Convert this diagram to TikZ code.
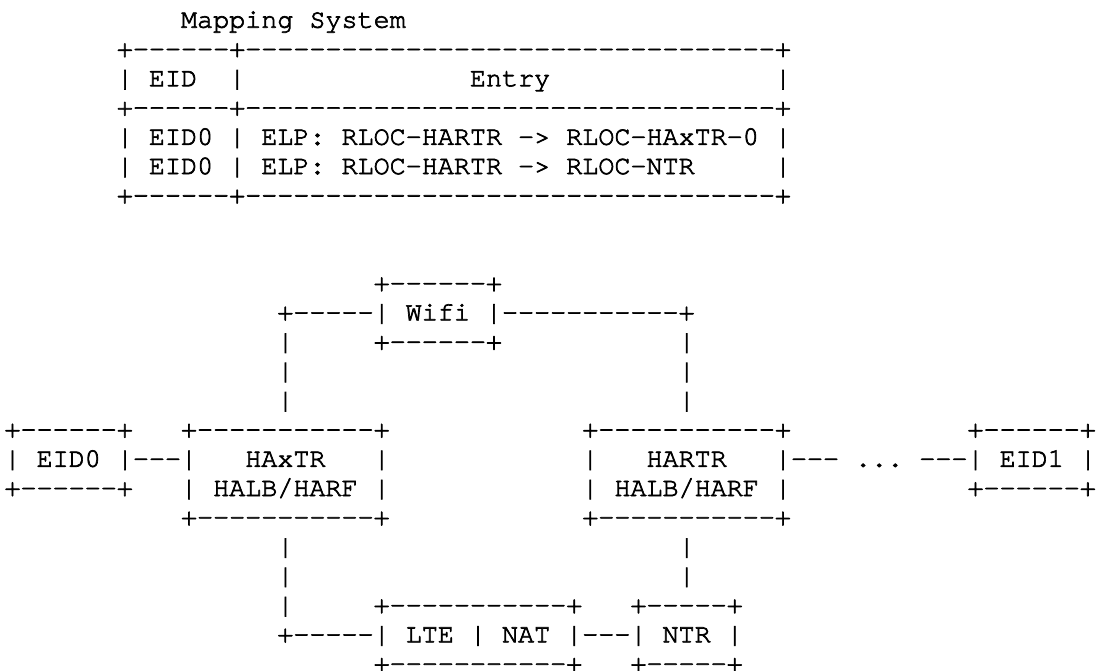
\documentclass[tikz,border=0pt]{standalone}
\usepackage{fontspec}
\setmonofont{TeX Gyre Cursor}[Ligatures=NoCommon, FakeBold=2.5]

\begin{document}
\begin{tikzpicture}[
    x=16.05pt, y=-29.27pt,
    every node/.style={anchor=base west, inner sep=0pt, outer sep=0pt,
        font=\ttfamily\fontsize{26.75}{29.27}\selectfont\frenchspacing},
]
\useasboundingbox (-4.5pt,27.7pt) rectangle (1093.5pt,-642.3pt);
% mapping system table (columns 7..48, rows 0..6)
\node (maptitle) at (11,0) {Mapping System};
\foreach \r in {1,3,6}
    \node (maprule\r) at (7,\r) {+------+{-----------}{-----------}{-----------}+};
\node (hdrleft) at (7,2) {|};
\node (hdreid) at (9,2) {EID};
\node (hdrmid) at (14,2) {|};
\node (hdrentry) at (29,2) {Entry};
\node (hdrright) at (48,2) {|};
\node (entryone) at (7,4) {| EID0 | ELP: RLOC-HARTR -> RLOC-HAxTR-0 |};
\node (entrytwo) at (7,5) {| EID0 | ELP: RLOC-HARTR -> RLOC-NTR};
\node (entrytwor) at (48,5) {|};
% wifi path
\node (wifitop) at (23,9) {+------+};
\node (wifi) at (17,10) {+-----| Wifi |-----------+};
\node (wifibot) at (23,11) {+------+};
\foreach \r in {11,12,13} {
    \node (upleft\r) at (17,\r) {|};
    \node (upright\r) at (42,\r) {|};
}
% routers and end hosts
\node (eidzerotop) at (0,14) {+------+};
\node (haxtrtop) at (11,14) {+-----------+};
\node (hartrtop) at (36,14) {+-----------+};
\node (eidonetop) at (60,14) {+------+};
\node (eidzero) at (0,15) {| EID0 |---|};
\node (haxtr) at (15,15) {HAxTR};
\node (haxtrr) at (23,15) {|};
\node (hartrl) at (36,15) {|};
\node (hartr) at (40,15) {HARTR};
\node (eidone) at (48,15) {|--- ... ---| EID1 |};
\node (eidzerobot) at (0,16) {+------+};
\node (haxtrfun) at (11,16) {| HALB/HARF |};
\node (hartrfun) at (36,16) {| HALB/HARF |};
\node (eidonebot) at (60,16) {+------+};
\node (haxtrbot) at (11,17) {+-----------+};
\node (hartrbot) at (36,17) {+-----------+};
% lte / nat path
\foreach \r in {18,19} {
    \node (downleft\r) at (17,\r) {|};
    \node (downright\r) at (42,\r) {|};
}
\node (downleft20) at (17,20) {|};
\node (ltetop) at (23,20) {+-----------+};
\node (ntrtop) at (39,20) {+-----+};
\node (lte) at (17,21) {+-----| LTE | NAT |---| NTR |};
\node (ltebot) at (23,22) {+-----------+};
\node (ntrbot) at (39,22) {+-----+};
\end{tikzpicture}
\end{document}
